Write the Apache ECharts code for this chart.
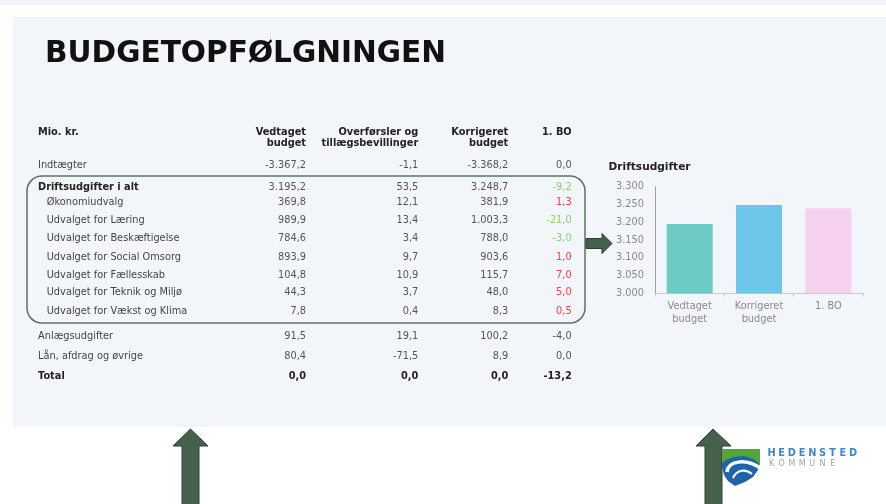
<!DOCTYPE html>
<html lang="da">
<head>
<meta charset="UTF-8">
<title>Budgetopfølgningen</title>
<script src="https://cdn.jsdelivr.net/npm/echarts@6/dist/echarts.min.js"></script>
<style>
html, body { margin: 0; padding: 0; background: #fff; }
#main { width: 886px; height: 504px; }
</style>
</head>
<body>
<div id="main"></div>
<script>
// tabellens data (mio. kr.)
var rowLabels = ['Indtægter', 'Driftsudgifter i alt', 'Økonomiudvalg', 'Udvalget for Læring',
    'Udvalget for Beskæftigelse', 'Udvalget for Social Omsorg', 'Udvalget for Fællesskab',
    'Udvalget for Teknik og Miljø', 'Udvalget for Vækst og Klima', 'Anlægsudgifter',
    'Lån, afdrag og øvrige', 'Total'];
var vedtaget    = [-3367.2, 3195.2, 369.8, 989.9, 784.6, 893.9, 104.8, 44.3, 7.8, 91.5, 80.4, 0.0];
var overforsler = [-1.1, 53.5, 12.1, 13.4, 3.4, 9.7, 10.9, 3.7, 0.4, 19.1, -71.5, 0.0];
var korrigeret  = [-3368.2, 3248.7, 381.9, 1003.3, 788.0, 903.6, 115.7, 48.0, 8.3, 100.2, 8.9, 0.0];
var bo          = [0.0, -9.2, 1.3, -21.0, -3.0, 1.0, 7.0, 5.0, 0.5, -4.0, 0.0, -13.2];
var colHeaders  = ['Vedtaget\nbudget', 'Overførsler og\ntillægsbevillinger', 'Korrigeret\nbudget', '1. BO'];

// søjlediagram
var barCategories = ['Vedtaget\nbudget', 'Korrigeret\nbudget', '1. BO'];
var barValues     = [3195.2, 3248.7, 3239.5];
var barColors     = ['#6dcac4', '#6ec6e9', '#f5d1ef'];
var yMin = 3000, yMax = 3300, yStep = 50;

var FONT = '"DejaVu Sans", Verdana, sans-serif';

function fmt(v) {
    var p = Math.abs(v).toFixed(1).split('.');
    var i = p[0].replace(/\B(?=(\d{3})+(?!\d))/g, '.');
    return (v < 0 ? '-' : '') + i + ',' + p[1];
}

function txt(x, y, s, opt) {
    opt = opt || {};
    var size = opt.size || 9.8;
    return {
        type: 'text', x: x, y: y, z: 20,
        style: {
            text: s,
            font: (opt.bold ? 'bold ' : '') + size + 'px ' + FONT,
            fill: opt.color || '#3a3a3a',
            textAlign: opt.align || 'left', align: opt.align || 'left',
            textVerticalAlign: 'middle', verticalAlign: 'middle',
            lineHeight: opt.lineHeight || size * 1.1
        }
    };
}

var g = [];
// baggrund
g.push({ type: 'rect', z: -10, shape: { x: 0, y: 0, width: 886, height: 5 }, style: { fill: '#f1f4f8' } });
g.push({ type: 'rect', z: -10, shape: { x: 13, y: 17, width: 873, height: 410 }, style: { fill: '#f2f5f9' } });

// overskrift
g.push(txt(45, 54.5, 'BUDGETOPFØLGNINGEN', { bold: true, size: 29.6, color: '#111' }));

// tabel
var colRight = [306, 418.3, 508.3, 571.7];
var rowY = [165, 187.5, 202.7, 220.3, 238.7, 257, 275, 292.7, 311.5, 336, 356.5, 376];
var cols = [vedtaget, overforsler, korrigeret, bo];

g.push(txt(38, 132.7, 'Mio. kr.', { bold: true, color: '#222' }));
colHeaders.forEach(function (h, c) {
    var multi = h.indexOf('\n') >= 0;
    g.push(txt(colRight[c], multi ? 138 : 132.7, h, { bold: true, align: 'right', color: '#222', lineHeight: 10.6 }));
});

rowLabels.forEach(function (lab, r) {
    var sub = r >= 2 && r <= 8;
    var bold = r === 1 || r === rowLabels.length - 1;
    g.push(txt(sub ? 46.7 : 38, rowY[r], lab, { bold: bold, color: bold ? '#222' : '#444' }));
    var isTotal = r === rowLabels.length - 1;
    cols.forEach(function (arr, c) {
        var col = isTotal ? '#222' : '#555';
        if (c === 3 && r >= 1 && r <= 8) {
            col = arr[r] < 0 ? '#8fd16a' : '#ff3a3a';
        }
        g.push(txt(colRight[c], rowY[r], fmt(arr[r]), { align: 'right', bold: isTotal, color: col }));
    });
});

// ramme om driftsudgifter
g.push({ type: 'rect', z: 15, shape: { x: 27, y: 176, width: 558, height: 147, r: 15 },
    style: { fill: 'none', stroke: '#5a755f', lineWidth: 1.5 } });

// pile
var arrowStyle = { fill: '#46614b', stroke: '#2c4030', lineWidth: 1 };
g.push({ type: 'polygon', z: 16, shape: { points: [[586, 238.5], [602, 238.5], [602, 233.5], [612, 243.5], [602, 253.5], [602, 248.5], [586, 248.5]] }, style: arrowStyle });
[[190.5, 173, 182, 199, 208], [713, 696, 705, 722, 731]].forEach(function (a) {
    g.push({ type: 'polygon', z: 16, shape: { points: [[a[2], 506], [a[2], 446], [a[1], 446], [a[0], 429], [a[4], 446], [a[3], 446], [a[3], 506]] }, style: arrowStyle });
});

// logo
g.push({ type: 'polygon', z: 16, shape: { points: [[722, 449], [760, 449], [760, 463], [758, 470], [753, 477], [745, 482], [735, 486], [728, 481], [724, 475], [722, 467]] }, style: { fill: '#1f63aa' } });
g.push({ type: 'polygon', z: 17, shape: { points: [[722, 449], [760, 449], [760, 465], [754, 459], [744, 456], [734, 457], [727, 459.5], [722, 463]] }, style: { fill: '#55a63a' } });
g.push({ type: 'bezierCurve', z: 18, shape: { x1: 727, y1: 472, cpx1: 728, cpy1: 461, cpx2: 745, cpy2: 458, x2: 760, y2: 468 }, style: { fill: 'none', stroke: '#fff', lineWidth: 3.5 } });
g.push({ type: 'bezierCurve', z: 18, shape: { x1: 733, y1: 478, cpx1: 737, cpy1: 469, cpx2: 746, cpy2: 469, x2: 752, y2: 474 }, style: { fill: 'none', stroke: '#fff', lineWidth: 2 } });
'HEDENSTED'.split('').forEach(function (ch, i) {
    g.push(txt(771.5 + i * 10.2, 453.5, ch, { bold: true, size: 9.8, color: '#3b88c9', align: 'center' }));
});
'KOMMUNE'.split('').forEach(function (ch, i) {
    g.push(txt(771.5 + i * 10.2, 463.5, ch, { size: 8, color: '#a3a3a3', align: 'center' }));
});

// diagramtitel
g.push(txt(608.5, 167.3, 'Driftsudgifter', { bold: true, size: 10.6, color: '#222' }));

var chart = echarts.init(document.getElementById('main'));
chart.setOption({
    animation: false,
    graphic: { elements: g },
    grid: { left: 655, right: 23, top: 186.7, bottom: 210.7, containLabel: false },
    xAxis: {
        type: 'category',
        data: barCategories,
        axisLine: { lineStyle: { color: '#c9c9c9' } },
        axisTick: { show: true, length: 3, lineStyle: { color: '#c9c9c9' } },
        axisLabel: { color: '#8a8a8a', fontSize: 9.8, fontFamily: FONT, lineHeight: 12.6, margin: 7 }
    },
    yAxis: {
        type: 'value',
        min: yMin, max: yMax, interval: yStep,
        axisLine: { show: true, lineStyle: { color: '#a0a0a0' } },
        axisTick: { show: false },
        splitLine: { show: false },
        axisLabel: {
            color: '#8a8a8a', fontSize: 9.8, fontFamily: FONT, margin: 11,
            formatter: function (v) { return String(v).replace(/\B(?=(\d{3})+(?!\d))/g, '.'); }
        }
    },
    series: [{
        type: 'bar',
        barWidth: 46,
        data: barValues.map(function (v, i) { return { value: v, itemStyle: { color: barColors[i] } }; })
    }]
});
</script>
</body>
</html>
